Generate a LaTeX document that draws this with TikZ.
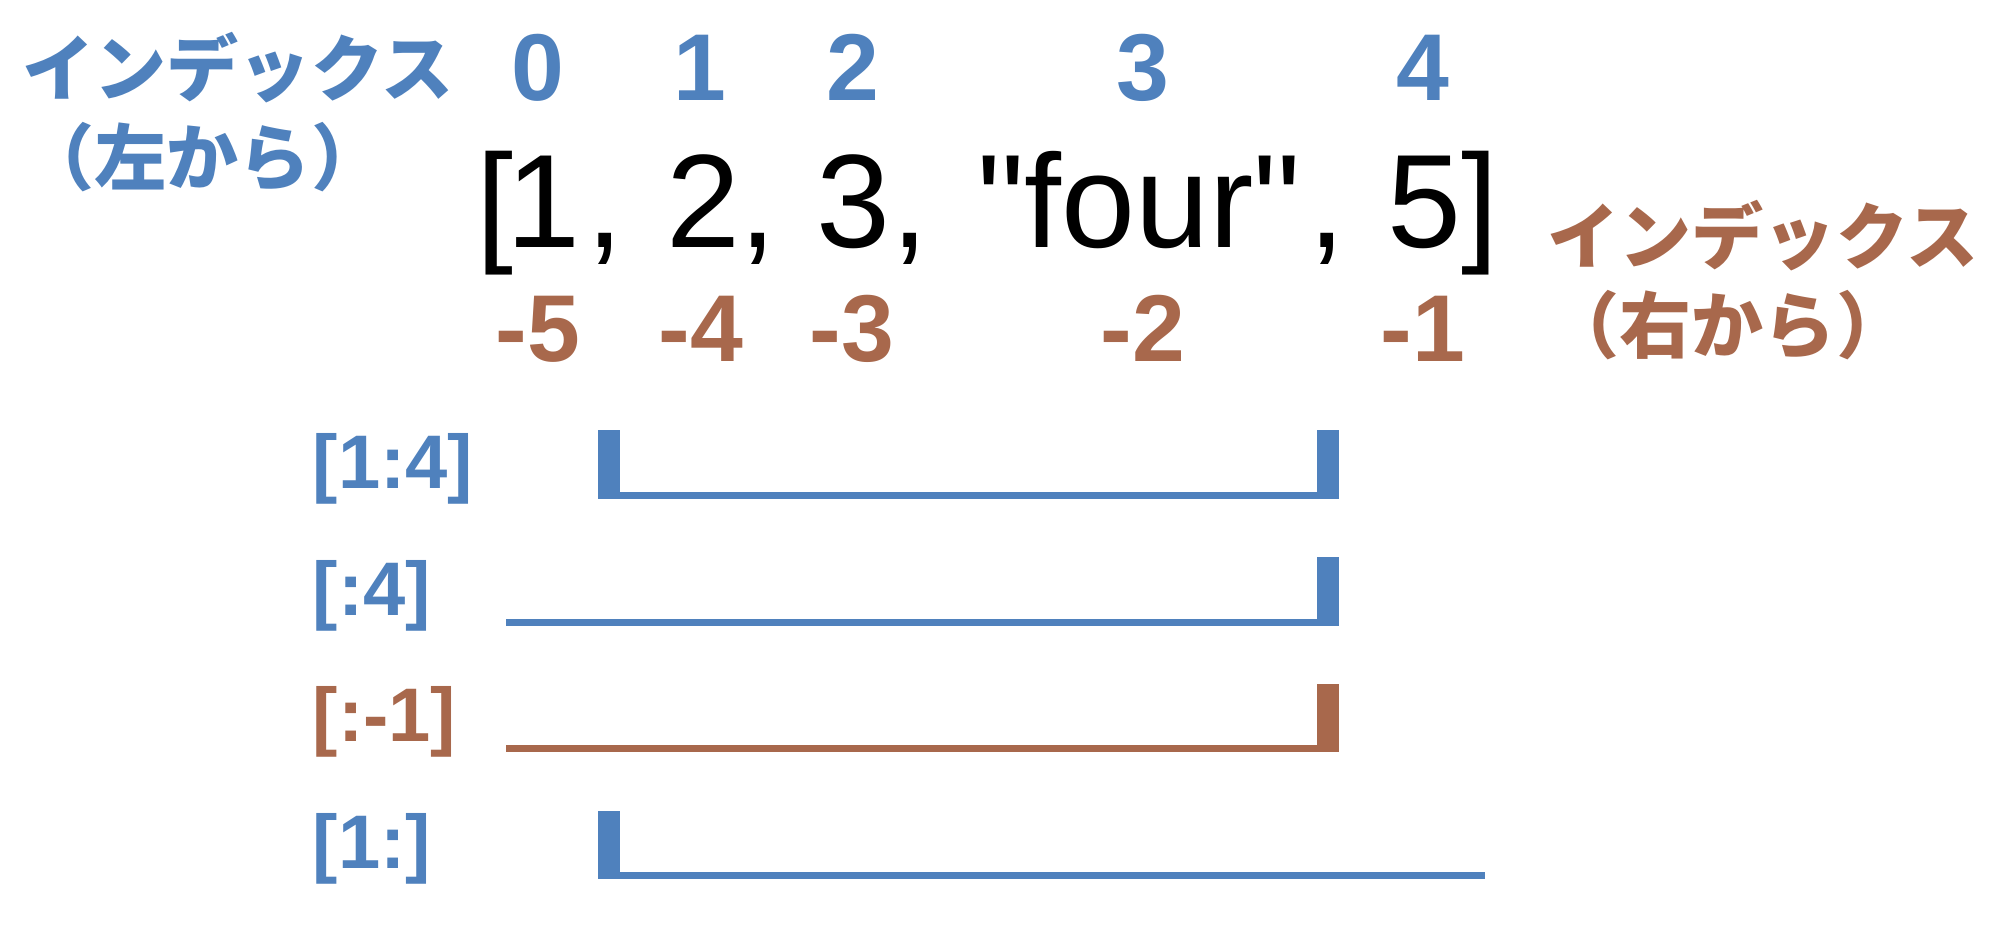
\documentclass[tikz,border=0pt]{standalone}
\usepackage{fontspec}
\setmainfont{Liberation Sans}
\newfontfamily\listfont{Liberation Sans}
\newfontfamily\jpfont{Noto Sans CJK JP}
\definecolor{idxblue}{RGB}{79,129,189}
\definecolor{idxred}{RGB}{168,104,76}
\tikzset{
  posidx/.style={idxblue,font=\bfseries\fontsize{27}{30}\selectfont,inner sep=0,anchor=base},
  negidx/.style={posidx,idxred},
  elem/.style={font=\listfont\fontsize{37.8}{44}\selectfont,inner sep=0,anchor=base},
  slicelbl/.style={idxblue,font=\bfseries\fontsize{21.6}{25}\selectfont,inner sep=0,anchor=base west},
  note/.style={font=\jpfont\bfseries\fontsize{20.5}{25}\selectfont,inner sep=0,anchor=base west},
}

\begin{document}
\begin{tikzpicture}[x=0.01cm,y=-0.01cm]
  \useasboundingbox (0,0) rectangle (2000,950);
  % labels on the two sides
  \node[note,idxblue] (lnote) at (22,95) {インデックス};
  \node[note,idxblue] (lsub) at (22,184) {（左から）};
  \node[note,idxred] (rnote) at (1547,263) {インデックス};
  \node[note,idxred] (rsub) at (1547,352) {（右から）};
  % the list
  \node[elem] (lb) at (495,247) {[};
  \node[elem] (e1) at (543,247) {1};
  \node[elem] (c1) at (605,247) {,};
  \node[elem] (e2) at (703,247) {2};
  \node[elem] (c2) at (758,247) {,};
  \node[elem] (e3) at (853,247) {3};
  \node[elem] (c3) at (910,247) {,};
  \node[elem] (e4) at (1139,247) {"four"};
  \node[elem] (c4) at (1327,247) {,};
  \node[elem] (e5) at (1424,247) {5};
  \node[elem] (rb) at (1480,247) {]};
  % indices
  \node[posidx] (p0) at (538,100) {0};
  \node[posidx] (p1) at (700,100) {1};
  \node[posidx] (p2) at (853,100) {2};
  \node[posidx] (p3) at (1143,100) {3};
  \node[posidx] (p4) at (1423,100) {4};
  \node[negidx] (n5) at (538,361) {-5};
  \node[negidx] (n4) at (701,361) {-4};
  \node[negidx] (n3) at (852,361) {-3};
  \node[negidx] (n2) at (1143,361) {-2};
  \node[negidx] (n1) at (1423,361) {-1};
  % slices
  \node[slicelbl] (s14) at (312,488) {[1:4]};
  \fill[idxblue] (598,430) rectangle (620,499);
  \fill[idxblue] (620,492) rectangle (1317,499);
  \fill[idxblue] (1317,430) rectangle (1339,499);
  \node[slicelbl] (s4) at (312,615) {[:4]};
  \fill[idxblue] (506,619) rectangle (1317,626);
  \fill[idxblue] (1317,557) rectangle (1339,626);
  \node[slicelbl,idxred] (sm1) at (312,741) {[:-1]};
  \fill[idxred] (506,745) rectangle (1317,752);
  \fill[idxred] (1317,684) rectangle (1339,752);
  \node[slicelbl] (s1) at (312,868) {[1:]};
  \fill[idxblue] (598,811) rectangle (620,879);
  \fill[idxblue] (620,872) rectangle (1485,879);
\end{tikzpicture}
\end{document}
